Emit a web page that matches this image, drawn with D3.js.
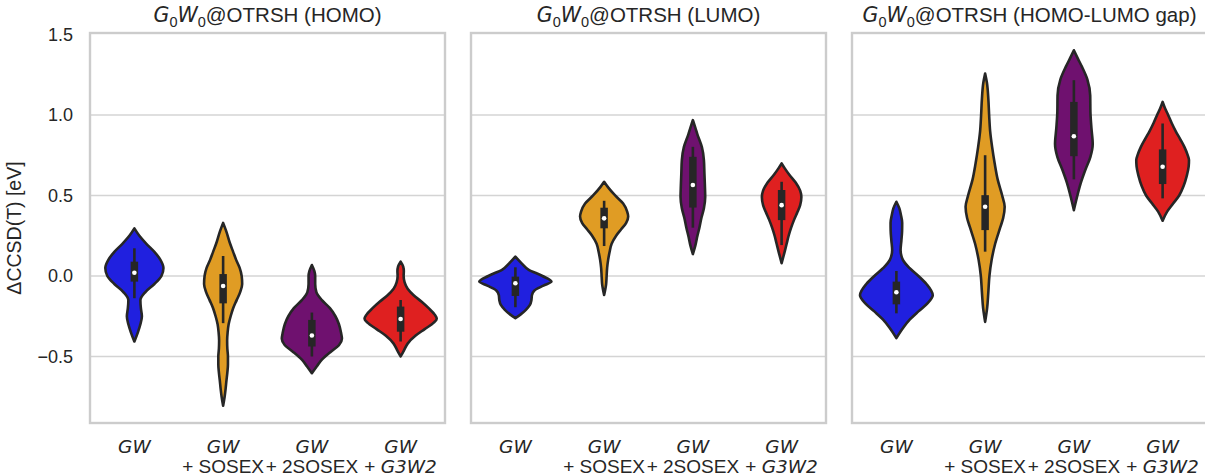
<!DOCTYPE html>
<html>
<head>
<meta charset="utf-8">
<script src="https://cdn.jsdelivr.net/npm/d3@7"></script>
<style>
  body { margin: 0; background: #fff; }
  svg { display: block; }
</style>
</head>
<body>
<svg id="canvas" width="1205" height="475"></svg>
<script>
// ---------------------------------------------------------------- data
var panels = ['HOMO', 'LUMO', 'HOMO-LUMO gap'];
var methods = ['GW', 'GW + SOSEX', 'GW + 2SOSEX', 'GW + G3W2'];
var colors = ['#2020df', '#e09c24', '#6f116f', '#df2020'];
var yTicks = [-0.5, 0.0, 0.5, 1.0, 1.5];

// violin outlines: [value, density], one list per method
var homoProfiles = [
  [[0.296,0],[0.25,5],[0.2,12],[0.15,20],[0.1,26],[0.05,29],[0.0,27],[-0.05,20],[-0.1,11],[-0.15,6],[-0.2,6.5],[-0.25,7.5],[-0.3,6],[-0.35,3.5],[-0.407,0]],
  [[0.33,0],[0.28,3],[0.2,7],[0.15,10],[0.1,13],[0.05,16.5],[0.0,18.5],[-0.05,19],[-0.1,17],[-0.15,13.5],[-0.2,10],[-0.25,7.5],[-0.3,5.5],[-0.35,4.5],[-0.4,4],[-0.45,4.2],[-0.5,4.8],[-0.55,4.8],[-0.6,4.2],[-0.65,3.3],[-0.7,2.5],[-0.75,1.5],[-0.806,0]],
  [[0.068,0],[0.03,2.5],[0.0,3.3],[-0.05,3.3],[-0.1,4.5],[-0.15,10],[-0.2,18],[-0.25,23.5],[-0.3,27],[-0.35,29],[-0.39,30],[-0.43,27],[-0.47,19],[-0.52,10],[-0.56,5],[-0.604,0]],
  [[0.089,0],[0.06,2.5],[0.03,3.2],[0.0,3],[-0.04,4],[-0.08,7],[-0.12,13],[-0.16,21],[-0.2,28],[-0.24,34],[-0.265,36],[-0.29,33],[-0.33,24],[-0.37,15],[-0.42,7],[-0.46,3.5],[-0.5,0]]
];
var lumoProfiles = [
  [[0.12,0],[0.08,6],[0.04,13],[0.0,27],[-0.035,36],[-0.06,28],[-0.09,19],[-0.12,16.5],[-0.15,16],[-0.18,14.5],[-0.21,10.5],[-0.24,5],[-0.262,0]],
  [[0.585,0],[0.55,4],[0.5,11],[0.45,19],[0.4,23],[0.37,24],[0.33,22],[0.29,17],[0.25,12],[0.2,7.5],[0.15,5.5],[0.1,4],[0.05,3],[0.0,2.5],[-0.05,2],[-0.118,0]],
  [[0.968,0],[0.92,2.5],[0.88,4.5],[0.8,9],[0.72,11],[0.64,11.5],[0.56,12],[0.49,12.3],[0.42,11],[0.36,8.5],[0.3,6.5],[0.24,4.2],[0.19,2.5],[0.136,0]],
  [[0.699,0],[0.67,3],[0.63,7.5],[0.58,14],[0.53,18.5],[0.49,19.7],[0.44,18.5],[0.4,16],[0.35,12.5],[0.3,9.5],[0.25,7],[0.2,5],[0.15,3],[0.079,0]]
];
var gapProfiles = [
  [[0.461,0],[0.42,3],[0.38,4.5],[0.33,5.8],[0.28,5.7],[0.22,5],[0.16,4.2],[0.1,6.5],[0.05,13],[0.0,22],[-0.05,30],[-0.12,36.3],[-0.17,31],[-0.22,22],[-0.27,13.5],[-0.32,7],[-0.386,0]],
  [[1.257,0],[1.2,1.8],[1.1,3.2],[1.0,4],[0.9,5],[0.8,7],[0.7,9.5],[0.6,12.5],[0.5,17],[0.43,19.5],[0.36,18],[0.3,15],[0.2,10],[0.1,6.5],[0.0,4.3],[-0.1,3.2],[-0.2,2],[-0.285,0]],
  [[1.402,0],[1.35,4],[1.3,8],[1.22,13.5],[1.12,16.3],[1.02,16.5],[0.92,17.5],[0.82,18.8],[0.74,16.5],[0.66,11.5],[0.58,7],[0.5,3.5],[0.409,0]],
  [[1.081,0],[1.04,2.5],[1.0,5.5],[0.95,9],[0.9,13],[0.85,17.5],[0.8,21.8],[0.75,25],[0.72,26.3],[0.68,26],[0.62,24],[0.56,21],[0.5,16.5],[0.45,10.5],[0.4,4.5],[0.343,0]]
];

// inner box: [whisker low, q1, median, q3, whisker high]
var homoBox = [[-0.138,-0.035,0.02,0.089,0.172],[-0.293,-0.17,-0.062,0.012,0.124],[-0.5,-0.438,-0.37,-0.273,-0.227],[-0.407,-0.346,-0.267,-0.19,-0.149]];
var lumoBox = [[-0.194,-0.124,-0.045,-0.004,0.054],[0.186,0.296,0.358,0.424,0.467],[0.3,0.425,0.565,0.74,0.802],[0.192,0.347,0.44,0.534,0.585]];
var gapBox = [[-0.232,-0.176,-0.101,-0.035,0.031],[0.151,0.285,0.43,0.502,0.75],[0.6,0.744,0.868,1.081,1.216],[0.482,0.571,0.678,0.786,0.947]];

var profiles = [homoProfiles, lumoProfiles, gapProfiles];
var boxes = [homoBox, lumoBox, gapBox];

// ---------------------------------------------------------------- layout
var svg = d3.select('#canvas');
var sans = '"Liberation Sans", Arial, sans-serif';
var math = '"DejaVu Sans", sans-serif';
var ink = '#262626';
var panel_w = 355, panel_gap = 26, plot_left = 90, plot_top = 33, plot_bottom = 423;

var y = d3.scaleLinear().domain([-0.913, 1.509]).range([plot_bottom, plot_top]);
var x = d3.scaleBand().domain(methods).range([0, panel_w]);
var w = d3.scaleLinear().domain([0, 36.3]).range([0, 0.41 * x.step()]);

// parts: [text, italic, sub, back-to-baseline]
function mathText(sel, parts){
  parts.forEach(function(p){
    var t = sel.append('tspan').text(p[0]);
    if(p[1]) t.style('font-family', math).style('font-style', 'oblique');
    if(p[2]) t.attr('dy', 4.5).style('font-size', '14.5px');
    if(p[3]) t.attr('dy', -4.5);
  });
}

panels.forEach(function(name, pi){
  var g = svg.append('g').attr('transform', 'translate(' + (plot_left + pi*(panel_w + panel_gap)) + ',0)');

  // grid
  g.selectAll('line.grid').data(yTicks.slice(0, 4)).enter().append('line')
    .attr('x1', 0).attr('x2', panel_w)
    .attr('y1', function(d){ return y(d); }).attr('y2', function(d){ return y(d); })
    .style('stroke', '#d4d4d4').style('stroke-width', 1.6);

  // frame
  g.append('rect').attr('x', 0).attr('y', plot_top).attr('width', panel_w).attr('height', plot_bottom - plot_top)
    .style('fill', 'none').style('stroke', '#cccccc').style('stroke-width', 2.4);

  // title
  var title = g.append('text').attr('x', panel_w/2).attr('y', 22).attr('text-anchor', 'middle')
    .style('font-family', sans).style('font-size', '20.5px').style('fill', ink);
  mathText(title, [['G', true], ['0', false, true], ['W', true, false, true], ['0', false, true], ['@OTRSH (' + name + ')', false, false, true]]);

  // violins
  profiles[pi].forEach(function(prof, mi){
    var cx = x(methods[mi]) + x.bandwidth()/2;
    var area = d3.area().curve(d3.curveMonotoneY)
      .y(function(d){ return y(d[0]); })
      .x0(function(d){ return cx - w(d[1]); })
      .x1(function(d){ return cx + w(d[1]); });
    g.append('path').datum(prof).attr('d', area)
      .style('fill', colors[mi]).style('stroke', ink).style('stroke-width', 2.6).style('stroke-linejoin', 'round');

    var b = boxes[pi][mi];
    g.append('line').attr('x1', cx).attr('x2', cx).attr('y1', y(b[0])).attr('y2', y(b[4]))
      .style('stroke', ink).style('stroke-width', 2.6);
    g.append('line').attr('x1', cx).attr('x2', cx).attr('y1', y(b[1])).attr('y2', y(b[3]))
      .style('stroke', ink).style('stroke-width', 7.5);
    g.append('circle').attr('cx', cx).attr('cy', y(b[2])).attr('r', 2.3).style('fill', 'white');
  });

  // x tick labels
  methods.forEach(function(m, mi){
    var cx = x(m) + x.bandwidth()/2;
    g.append('text').attr('x', cx).attr('y', 453).attr('text-anchor', 'middle')
      .style('font-family', math).style('font-style', 'oblique').style('font-size', '18.5px').style('fill', ink)
      .text('GW');
    var rest = m.slice(3);
    if(rest){
      var t = g.append('text').attr('x', cx).attr('y', 473).attr('text-anchor', 'middle')
        .style('font-family', sans).style('font-size', '19px').style('fill', ink);
      if(rest == '+ G3W2'){
        t.append('tspan').text('+ ');
        t.append('tspan').style('font-family', math).style('font-style', 'oblique').style('font-size', '18.5px').text('G3W2');
      } else {
        t.text(rest);
      }
    }
  });

  // y ticks on first panel only
  if(pi == 0){
    g.selectAll('text.ytick').data(yTicks).enter().append('text')
      .attr('x', -17).attr('y', function(d){ return y(d); }).attr('dy', '0.35em')
      .attr('text-anchor', 'end')
      .style('font-family', sans).style('font-size', '18px').style('fill', ink)
      .text(function(d){ return d3.format('.1f')(d).replace('-', '\u2212'); });
  }
});

svg.append('text').attr('transform', 'translate(20.5,' + ((plot_top + plot_bottom)/2) + ') rotate(-90)')
  .attr('text-anchor', 'middle')
  .style('font-family', sans).style('font-size', '19.5px').style('fill', ink)
  .text('\u0394CCSD(T) [eV]');
</script>
</body>
</html>
